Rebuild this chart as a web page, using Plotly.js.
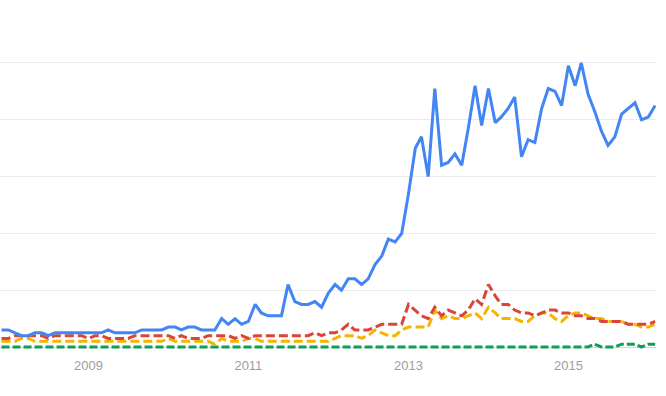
<!DOCTYPE html>
<html>
<head>
<meta charset="utf-8">
<script src="https://cdn.plot.ly/plotly-3.0.1.min.js"></script>
<style>html,body{margin:0;padding:0;background:#fff;}#chart{width:666px;height:396px;}</style>
</head>
<body>
<div id="chart"></div>
<script>
// Monthly series, Dec 2007 .. Feb 2016 (99 months)
const startYear = 2007, startMonth = 12;
const blueSeries = [6,6,5,4,4,5,5,4,5,5, 5,5,5,5,5,5,6,5,5,5, 5,6,6,6,6,7,7,6,7,7,
  6,6,6,10,8,10,8,9,15,12, 11,11,11,22,16,15,15,16,14,19, 22,20,24,24,22,24,29,32,38,37,
  40,54,70,74,60,91,64,65,68,64, 77,92,78,91,79,81,84,88,67,73, 72,84,91,90,85,99,92,100,89,83,
  76,71,74,82,84,86,80,81,85];
const redSeries = [3,3,4,4,4,4,4,3,4,4, 4,4,4,3,4,4,3,3,3,3, 4,4,4,4,4,4,3,4,3,3,
  3,4,4,4,4,3,4,3,4,4, 4,4,4,4,4,4,4,5,4,5, 5,6,8,6,6,6,7,8,8,8,
  8,15,13,11,10,14,11,13,12,11, 13,17,15,22,18,15,15,13,12,12, 11,12,13,13,12,12,11,11,10,10,
  9,9,9,9,8,8,8,8,9];
const yellowSeries = [2,2,2,3,3,2,2,2,2,2, 2,2,2,2,2,2,2,2,2,2, 2,2,2,2,2,3,2,2,2,2,
  2,2,1,3,2,2,2,3,3,2, 2,2,2,2,2,2,2,2,2,2, 3,4,4,4,3,4,6,5,4,4,
  6,7,7,7,7,13,10,11,10,10, 11,12,10,14,12,10,10,10,9,9, 11,12,12,10,9,11,12,12,11,10,
  10,9,9,9,8,8,7,7,8];
const greenSeries = [0,0,0,0,0,0,0,0,0,0, 0,0,0,0,0,0,0,0,0,0, 0,0,0,0,0,0,0,0,0,0,
  0,0,0,0,0,0,0,0,0,0, 0,0,0,0,0,0,0,0,0,0, 0,0,0,0,0,0,0,0,0,0,
  0,0,0,0,0,0,0,0,0,0, 0,0,0,0,0,0,0,0,0,0, 0,0,0,0,0,0,0,0,0,1,
  0,0,0,1,1,1,0,1,1];
const tickValues = ['2009-01-01','2011-01-01','2013-01-01','2015-01-01'];
const tickLabels = ['2009','2011','2013','2015'];

const months = blueSeries.map((_, i) => {
  const m0 = (startMonth - 1) + i;
  const y = startYear + Math.floor(m0 / 12);
  const m = (m0 % 12) + 1;
  return y + '-' + String(m).padStart(2, '0') + '-01';
});

function tr(vals, color, dash) {
  return {x: months, y: vals, type: 'scatter', mode: 'lines',
    line: {color: color, width: 3, dash: dash}, hoverinfo: 'skip'};
}
const data = [
  tr(greenSeries, '#0f9d58', '8px,3px'),
  tr(yellowSeries, '#f4b400', '9px,4px'),
  tr(redSeries, '#db4437', '9px,4px'),
  tr(blueSeries, '#4285f4', 'solid')
];
const layout = {
  width: 666, height: 396,
  margin: {l: 0, r: 10, t: 0, b: 40},
  paper_bgcolor: '#fff', plot_bgcolor: '#fff',
  showlegend: false,
  xaxis: {type: 'date', range: ['2007-11-24', '2016-02-05'],
    tickvals: tickValues, ticktext: tickLabels, showgrid: false, zeroline: false,
    showline: false, ticks: '', tickfont: {family: 'Arial, Liberation Sans, sans-serif', size: 13, color: '#9e9e9e'}},
  yaxis: {range: [-3.169, 122.18], tickvals: [20,40,60,80,100], showticklabels: false,
    gridcolor: '#ebebeb', gridwidth: 1, zeroline: true, zerolinecolor: '#d6d6d6', zerolinewidth: 1,
    showline: false, ticks: ''}
};
Plotly.newPlot('chart', data, layout, {displayModeBar: false, staticPlot: true});
</script>
</body>
</html>
